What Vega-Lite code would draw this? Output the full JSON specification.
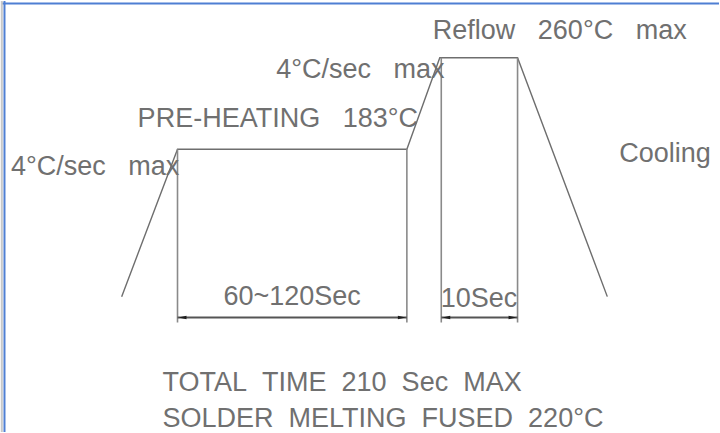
{
  "$schema": "https://vega.github.io/schema/vega-lite/v6.json",
  "width": 720,
  "height": 433,
  "autosize": {"type": "fit", "contains": "padding"},
  "padding": 0,
  "background": "white",
  "config": {"view": {"stroke": null}},
  "datasets": {
    "border": [
      {"x": 0, "x2": 720, "y": 2.5, "y2": 2.5, "c": "blue"},
      {"x": 3.5, "x2": 3.5, "y": 0, "y2": 433, "c": "blue"},
      {"x": 0.8, "x2": 0.8, "y": 0, "y2": 433, "c": "gray"}
    ],
    "profile": [
      {"o": 1, "x": 121, "y": 297},
      {"o": 2, "x": 177, "y": 149},
      {"o": 3, "x": 407, "y": 149},
      {"o": 4, "x": 440, "y": 57},
      {"o": 5, "x": 518, "y": 57},
      {"o": 6, "x": 608, "y": 297}
    ],
    "verticals": [
      {"x": 177, "y": 149, "y2": 323},
      {"x": 407, "y": 149, "y2": 323},
      {"x": 441.5, "y": 57, "y2": 323},
      {"x": 518, "y": 57, "y2": 323}
    ],
    "dims": [
      {"x": 177, "x2": 407, "y": 318},
      {"x": 441.5, "x2": 518, "y": 318}
    ],
    "arrowsL": [
      {"x": 178, "y": 318},
      {"x": 442.5, "y": 318}
    ],
    "arrowsR": [
      {"x": 406, "y": 318},
      {"x": 517, "y": 318}
    ],
    "labels": [
      {"t": "Reflow\u00a0\u00a0\u00a0260°C\u00a0\u00a0\u00a0max", "x": 433, "y": 38},
      {"t": "4°C/sec\u00a0\u00a0\u00a0max", "x": 276, "y": 77},
      {"t": "PRE-HEATING\u00a0\u00a0\u00a0183°C", "x": 137, "y": 127},
      {"t": "4°C/sec\u00a0\u00a0\u00a0max", "x": 10, "y": 175},
      {"t": "Cooling", "x": 620, "y": 162},
      {"t": "60~120Sec", "x": 223, "y": 305},
      {"t": "10Sec", "x": 441, "y": 307},
      {"t": "TOTAL\u00a0\u00a0TIME\u00a0\u00a0210\u00a0\u00a0Sec\u00a0\u00a0MAX", "x": 162, "y": 392},
      {"t": "SOLDER\u00a0\u00a0MELTING\u00a0\u00a0FUSED\u00a0\u00a0220°C", "x": 162, "y": 428}
    ]
  },
  "layer": [
    {
      "data": {"name": "border"},
      "mark": {"type": "rule", "strokeWidth": 2},
      "encoding": {
        "x": {"field": "x", "type": "quantitative", "scale": {"domain": [0, 720], "nice": false, "zero": false}, "axis": null},
        "x2": {"field": "x2"},
        "y": {"field": "y", "type": "quantitative", "scale": {"domain": [0, 433], "reverse": true, "nice": false, "zero": false}, "axis": null},
        "y2": {"field": "y2"},
        "color": {"field": "c", "type": "nominal", "scale": {"domain": ["blue", "gray"], "range": ["#4f7fd3", "#c8c8c8"]}, "legend": null}
      }
    },
    {
      "data": {"name": "profile"},
      "mark": {"type": "line", "color": "#6e6e6e", "strokeWidth": 1.4},
      "encoding": {
        "x": {"field": "x", "type": "quantitative"},
        "y": {"field": "y", "type": "quantitative"},
        "order": {"field": "o", "type": "quantitative"}
      }
    },
    {
      "data": {"name": "verticals"},
      "mark": {"type": "rule", "color": "#8a8a8a", "strokeWidth": 1.6},
      "encoding": {
        "x": {"field": "x", "type": "quantitative"},
        "y": {"field": "y", "type": "quantitative"},
        "y2": {"field": "y2"}
      }
    },
    {
      "data": {"name": "dims"},
      "mark": {"type": "rule", "color": "#555555", "strokeWidth": 2},
      "encoding": {
        "x": {"field": "x", "type": "quantitative"},
        "x2": {"field": "x2"},
        "y": {"field": "y", "type": "quantitative"}
      }
    },
    {
      "data": {"name": "arrowsL"},
      "mark": {"type": "point", "shape": "M0,0L2,-0.45L2,0.45Z", "filled": true, "color": "#1e1e1e", "size": 64, "opacity": 1},
      "encoding": {
        "x": {"field": "x", "type": "quantitative"},
        "y": {"field": "y", "type": "quantitative"}
      }
    },
    {
      "data": {"name": "arrowsR"},
      "mark": {"type": "point", "shape": "M0,0L-2,-0.45L-2,0.45Z", "filled": true, "color": "#1e1e1e", "size": 64, "opacity": 1},
      "encoding": {
        "x": {"field": "x", "type": "quantitative"},
        "y": {"field": "y", "type": "quantitative"}
      }
    },
    {
      "data": {"name": "labels"},
      "mark": {"type": "text", "font": "Liberation Sans", "fontSize": 27, "color": "#707070", "align": "left", "baseline": "alphabetic"},
      "encoding": {
        "x": {"field": "x", "type": "quantitative"},
        "y": {"field": "y", "type": "quantitative"},
        "text": {"field": "t", "type": "nominal"}
      }
    }
  ]
}
